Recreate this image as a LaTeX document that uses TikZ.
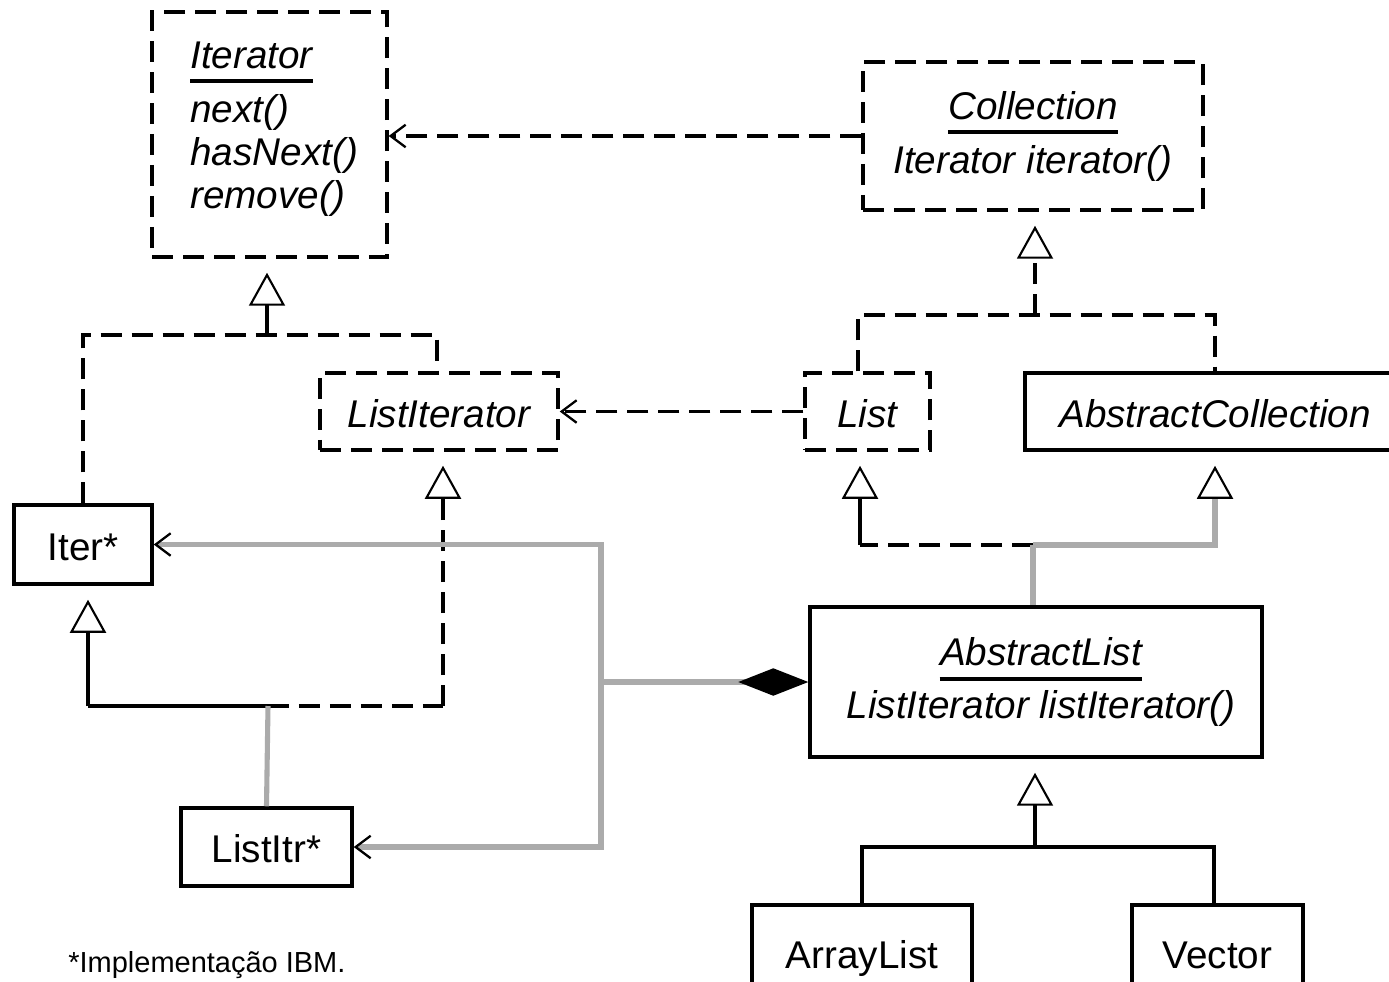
\documentclass[tikz,border=0pt]{standalone}
\usepackage{fontspec}
\setmainfont{Liberation Sans}
\usetikzlibrary{arrows.meta}
\begin{document}
\begin{tikzpicture}[x=0.02cm,y=-0.02cm,
  lbl/.style={font=\fontsize{22}{26}\selectfont, inner sep=0pt},
  box/.style={draw, line width=2pt, inner sep=0pt, lbl, text height=19pt, text depth=1pt},
  dbox/.style={box, dash pattern=on 0.42cm off 0.2cm},
  bl/.style={line width=2pt},
  dl/.style={line width=2pt, dash pattern=on 0.42cm off 0.2cm},
  gl/.style={line width=2.9pt, color=black!33},
  gen/.style={-{Triangle[open, length=0.66cm, width=0.72cm, line width=1.2pt, color=black, fill=white]}, shorten >=0.28cm},
  dep/.style={-{Straight Barb[length=0.3cm, width=0.45cm, line width=1.3pt, color=black]}},
  comp/.style={-{Diamond[length=1.4cm, width=0.55cm, color=black, fill=black]}},
  ul/.style={line width=1.8pt}
]
\useasboundingbox (0,0) rectangle (1389,981);
\clip (0,0) rectangle (1389,981);

% boxes
\node[dbox, minimum width=4.7cm, minimum height=4.9cm] (iterator) at (269.5,134.5) {};
\node[dbox, minimum width=6.8cm, minimum height=2.96cm] (coll) at (1033,136) {};
\node[dbox, minimum width=4.76cm, minimum height=1.54cm] (listit) at (439,411.5) {\itshape ListIterator};
\node[dbox, minimum width=2.5cm, minimum height=1.54cm] (list) at (867.5,411.5) {\itshape List};
\node[box, minimum width=7.6cm, minimum height=1.54cm] (abscol) at (1215,411.5) {\itshape AbstractCollection};
\node[box, minimum width=2.76cm, minimum height=1.58cm] (iterc) at (83,544.5) {Iter*};
\node[box, minimum width=3.42cm, minimum height=1.56cm] (listitr) at (266.5,847) {ListItr*};
\node[box, minimum width=9.04cm, minimum height=3.0cm] (abslist) at (1036,682) {};
\node[box, minimum width=4.4cm, minimum height=1.9cm] (arrayl) at (862,952.5) {ArrayList};
\node[box, minimum width=3.42cm, minimum height=1.9cm] (vector) at (1217.5,952.5) {Vector};

% Iterator texts
\node[lbl, anchor=base west] (itname) at (190,68) {\itshape Iterator};
\draw[ul] ([yshift=-0.26cm]itname.base west) -- ([yshift=-0.26cm]itname.base east);
\node[lbl, anchor=base west] (itnext) at (190,122) {\itshape next()};
\node[lbl, anchor=base west] (ithas) at (190,165) {\itshape hasNext()};
\node[lbl, anchor=base west] (itrem) at (190,208) {\itshape remove()};

% Collection texts
\node[lbl, anchor=base] (collname) at (1033,119) {\itshape Collection};
\draw[ul] ([yshift=-0.26cm]collname.base west) -- ([yshift=-0.26cm]collname.base east);
\node[lbl, anchor=base] (collop) at (1033,173) {\itshape Iterator iterator()};

% AbstractList texts
\node[lbl, anchor=base] (alname) at (1041,665) {\itshape AbstractList};
\draw[ul] ([yshift=-0.28cm]alname.base west) -- ([yshift=-0.28cm]alname.base east);
\node[lbl, anchor=base] (alop) at (1041,718) {\itshape ListIterator listIterator()};

% footnote
\node[anchor=base west, inner sep=0pt, font=\fontsize{16.5}{19}\selectfont] (note) at (68,972) {*Implementação IBM.};

% Collection -> Iterator dependency
\draw[dl, dep] (coll.west) -- (iterator.east |- coll.west);
% List -> ListIterator dependency
\draw[dl, dep] (list.west) -- (listit.east);

% realisations of Iterator
\coordinate (j1) at (267,335);
\draw[dl] (iterc.north) |- (j1) -| ([xshift=-0.04cm]listit.north);
\draw[bl, gen] (j1) -- (j1 |- iterator.south);

% Collection hierarchy
\coordinate (j2) at (1035,315);
\draw[dl] ([xshift=-0.19cm]list.north) |- (j2) -| (abscol.north);
\draw[dl, gen] (j2) -- (j2 |- coll.south);

% AbstractList parents
\coordinate (j3) at (1033,545);
\coordinate (lt) at (860,545);
\draw[dl] (j3) -- (lt);
\draw[bl, gen] (lt) -- (lt |- list.south);
\draw[gl, gen] (j3) -| (abscol.south);
\draw[gl] (j3) -- (j3 |- abslist.north);

% AbstractList children
\coordinate (j4) at (1035,847);
\draw[bl] (arrayl.north) |- (j4) -| ([xshift=-0.07cm]vector.north);
\draw[bl, gen] (j4) -- (j4 |- abslist.south);

% ListItr* parents
\coordinate (j5) at (268,706);
\coordinate (it5) at (88,706);
\coordinate (li5) at (443,706);
\draw[bl] (j5) -- (it5);
\draw[bl, gen] (it5) -- (it5 |- iterc.south);
\draw[dl] (j5) -- (li5);
\draw[dl, gen] (li5) -- (li5 |- listit.south);
\draw[gl] (j5) -- (listitr.north);

% composition / creation lines
\coordinate (g) at (601,682);
\draw[gl, comp] (g) -- (abslist.west);
\draw[gl, dep] (g) |- (iterc.east);
\draw[gl, dep] (g) |- (listitr.east);
\end{tikzpicture}
\end{document}
